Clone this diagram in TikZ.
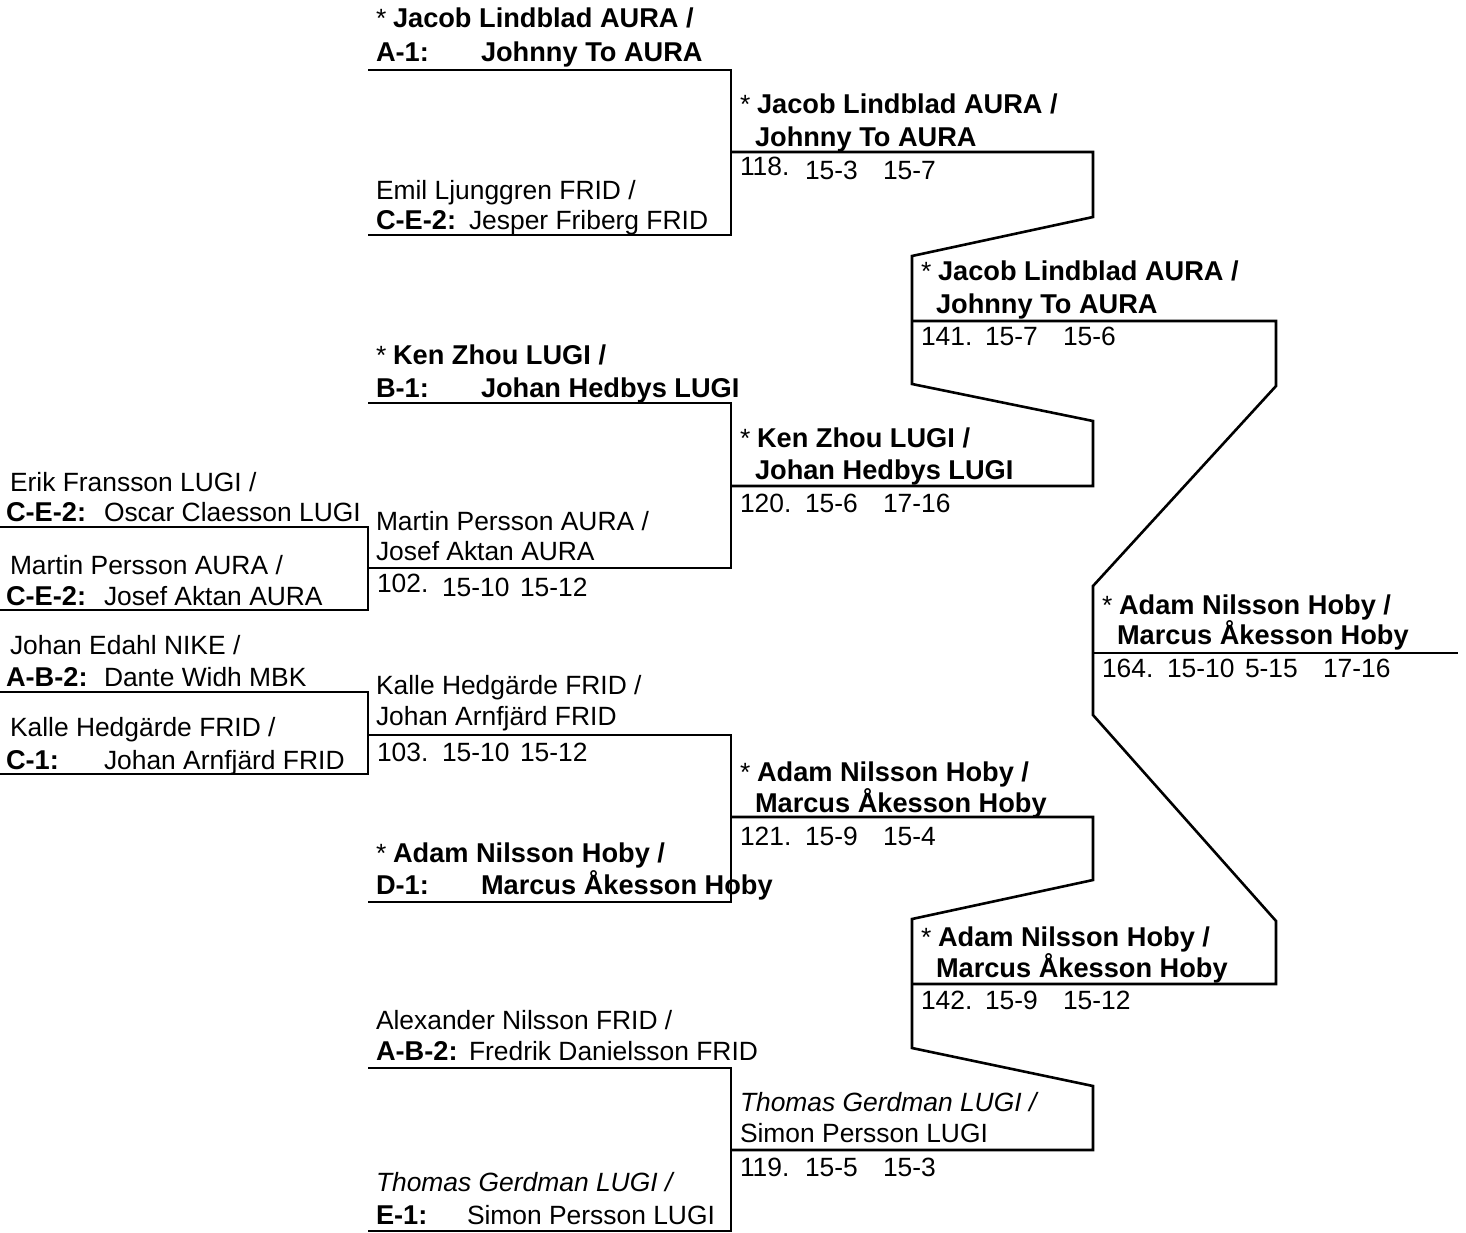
\documentclass[tikz,border=0pt]{standalone}
\usepackage{fontspec}
\setmainfont{Liberation Sans}
\begin{document}
\begin{tikzpicture}[x=1pt,y=-1pt,
  t/.style={anchor=base west,inner sep=0pt,outer sep=0pt,font=\fontsize{26.4}{26.4}\selectfont},
  tb/.style={t,font=\fontsize{27.2}{27.2}\selectfont\bfseries},
  ti/.style={t,font=\fontsize{26.4}{26.4}\selectfont\itshape},
  br/.style={line width=2.6pt,line join=miter,black}]
\useasboundingbox (0,0) rectangle (1466,1232);
% ---------- bracket lines ----------
% round 1 (left)
\draw[br] (0,527) -- (368,527) -- (368,610) -- (0,610);
\draw[br] (0,692) -- (368,692) -- (368,774) -- (0,774);
% round 2
\draw[br] (368,70) -- (731,70) -- (731,235) -- (368,235);
\draw[br] (368,403) -- (731,403) -- (731,568) -- (368,568);
\draw[br] (368,735) -- (731,735) -- (731,902) -- (368,902);
\draw[br] (368,1068) -- (731,1068) -- (731,1231) -- (368,1231);
% round 3
\draw[br] (731,152) -- (1093,152) -- (1093,217) -- (912,256) -- (912,384) -- (1093,421) -- (1093,486) -- (731,486);
\draw[br] (731,817) -- (1093,817) -- (1093,880) -- (912,919) -- (912,1048) -- (1093,1086) -- (1093,1150) -- (731,1150);
% round 4
\draw[br] (912,321) -- (1276,321) -- (1276,386) -- (1093,586) -- (1093,715) -- (1276,921) -- (1276,984) -- (912,984);
% final
\draw[br] (1093,653) -- (1458,653);
% ---------- column 1 ----------
\node[t]  (a1) at (10,491) {Erik Fransson LUGI /};
\node[tb] (a2) at (6,521) {C-E-2:};
\node[t]  (a3) at (104,521) {Oscar Claesson LUGI};
\node[t]  (a4) at (10,574) {Martin Persson AURA /};
\node[tb] (a5) at (6,605) {C-E-2:};
\node[t]  (a6) at (104,605) {Josef Aktan AURA};
\node[t]  (a7) at (10,654) {Johan Edahl NIKE /};
\node[tb] (a8) at (6,686) {A-B-2:};
\node[t]  (a9) at (104,686) {Dante Widh MBK};
\node[t]  (a10) at (10,736) {Kalle Hedgärde FRID /};
\node[tb] (a11) at (6,769) {C-1:};
\node[t]  (a12) at (104,769) {Johan Arnfjärd FRID};
% ---------- column 2 ----------
\node[t]  (b1) at (376,27) {*};
\node[tb] (b2) at (393,27) {Jacob Lindblad AURA /};
\node[tb] (b3) at (376,61) {A-1:};
\node[tb] (b4) at (481,61) {Johnny To AURA};
\node[t]  (b5) at (376,199) {Emil Ljunggren FRID /};
\node[tb] (b6) at (376,229) {C-E-2:};
\node[t]  (b7) at (469,229) {Jesper Friberg FRID};
\node[t]  (b8) at (376,364) {*};
\node[tb] (b9) at (393,364) {Ken Zhou LUGI /};
\node[tb] (b10) at (376,397) {B-1:};
\node[tb] (b11) at (481,397) {Johan Hedbys LUGI};
\node[t]  (b12) at (376,530) {Martin Persson AURA /};
\node[t]  (b13) at (376,560) {Josef Aktan AURA};
\node[t]  (b14) at (377,592) {102.};
\node[t]  (b15) at (442,596) {15-10};
\node[t]  (b16) at (520,596) {15-12};
\node[t]  (b17) at (376,694) {Kalle Hedgärde FRID /};
\node[t]  (b18) at (376,725) {Johan Arnfjärd FRID};
\node[t]  (b19) at (377,761) {103.};
\node[t]  (b20) at (442,761) {15-10};
\node[t]  (b21) at (520,761) {15-12};
\node[t]  (b22) at (376,862) {*};
\node[tb] (b23) at (393,862) {Adam Nilsson Hoby /};
\node[tb] (b24) at (376,894) {D-1:};
\node[tb] (b25) at (481,894) {Marcus Åkesson Hoby};
\node[t]  (b26) at (376,1029) {Alexander Nilsson FRID /};
\node[tb] (b27) at (376,1060) {A-B-2:};
\node[t]  (b28) at (469,1060) {Fredrik Danielsson FRID};
\node[ti] (b29) at (376,1191) {Thomas Gerdman LUGI /};
\node[tb] (b30) at (376,1224) {E-1:};
\node[t]  (b31) at (467,1224) {Simon Persson LUGI};
% ---------- column 3 ----------
\node[t]  (c1) at (740,113) {*};
\node[tb] (c2) at (757,113) {Jacob Lindblad AURA /};
\node[tb] (c3) at (755,146) {Johnny To AURA};
\node[t]  (c4) at (740,175) {118.};
\node[t]  (c5) at (805,179) {15-3};
\node[t]  (c6) at (883,179) {15-7};
\node[t]  (c7) at (740,447) {*};
\node[tb] (c8) at (757,447) {Ken Zhou LUGI /};
\node[tb] (c9) at (755,479) {Johan Hedbys LUGI};
\node[t]  (c10) at (740,512) {120.};
\node[t]  (c11) at (805,512) {15-6};
\node[t]  (c12) at (883,512) {17-16};
\node[t]  (c13) at (740,781) {*};
\node[tb] (c14) at (757,781) {Adam Nilsson Hoby /};
\node[tb] (c15) at (755,812) {Marcus Åkesson Hoby};
\node[t]  (c16) at (740,845) {121.};
\node[t]  (c17) at (805,845) {15-9};
\node[t]  (c18) at (883,845) {15-4};
\node[ti] (c19) at (740,1111) {Thomas Gerdman LUGI /};
\node[t]  (c20) at (740,1142) {Simon Persson LUGI};
\node[t]  (c21) at (740,1176) {119.};
\node[t]  (c22) at (805,1176) {15-5};
\node[t]  (c23) at (883,1176) {15-3};
% ---------- column 4 ----------
\node[t]  (d1) at (921,280) {*};
\node[tb] (d2) at (938,280) {Jacob Lindblad AURA /};
\node[tb] (d3) at (936,313) {Johnny To AURA};
\node[t]  (d4) at (921,345) {141.};
\node[t]  (d5) at (985,345) {15-7};
\node[t]  (d6) at (1063,345) {15-6};
\node[t]  (d7) at (921,946) {*};
\node[tb] (d8) at (938,946) {Adam Nilsson Hoby /};
\node[tb] (d9) at (936,977) {Marcus Åkesson Hoby};
\node[t]  (d10) at (921,1009) {142.};
\node[t]  (d11) at (985,1009) {15-9};
\node[t]  (d12) at (1063,1009) {15-12};
% ---------- final ----------
\node[t]  (e1) at (1102,614) {*};
\node[tb] (e2) at (1119,614) {Adam Nilsson Hoby /};
\node[tb] (e3) at (1117,644) {Marcus Åkesson Hoby};
\node[t]  (e4) at (1102,677) {164.};
\node[t]  (e5) at (1167,677) {15-10};
\node[t]  (e6) at (1245,677) {5-15};
\node[t]  (e7) at (1323,677) {17-16};
\end{tikzpicture}
\end{document}
